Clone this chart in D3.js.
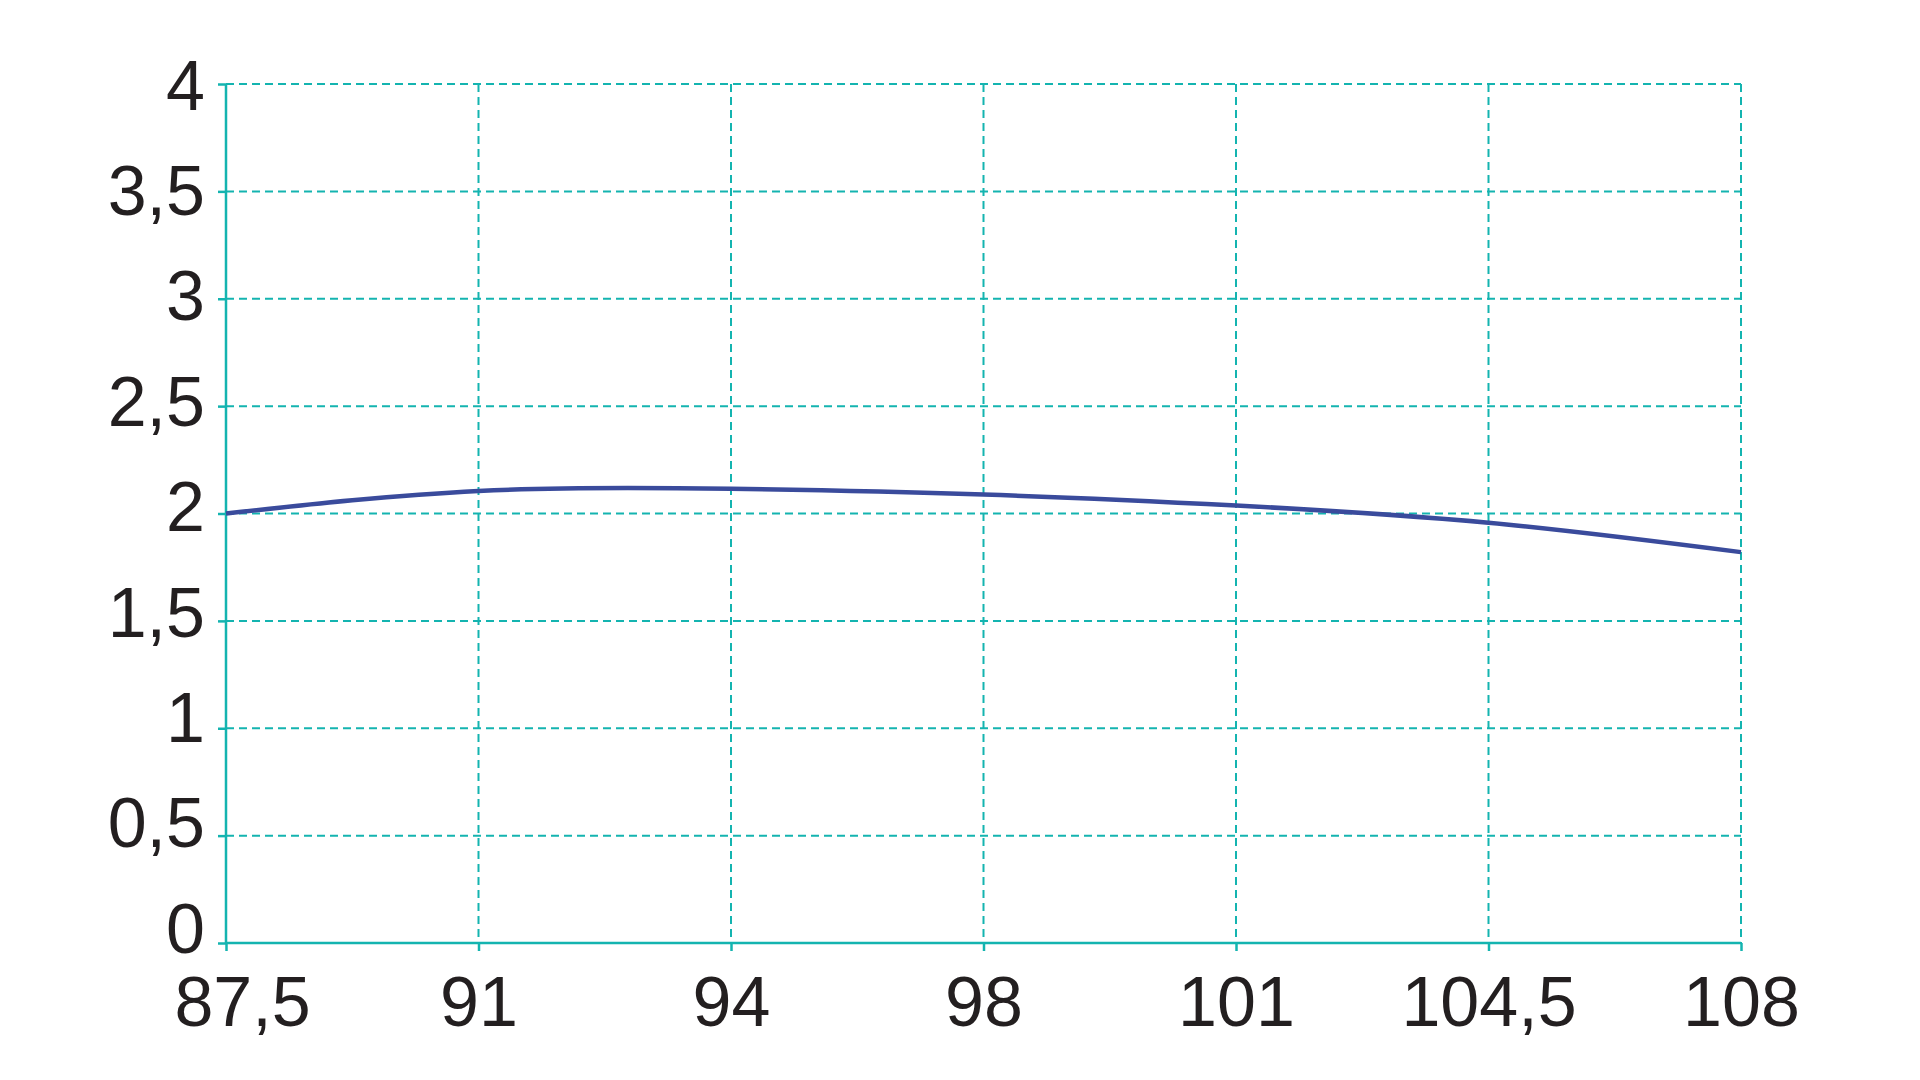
<!DOCTYPE html>
<html>
<head>
<meta charset="utf-8">
<script src="https://cdn.jsdelivr.net/npm/d3@7"></script>
<style>
  body { margin: 0; background: #fff; }
  .tick text { font-family: "Liberation Sans", Arial, sans-serif; fill: #231f20; }
</style>
</head>
<body>
<div id="chart"></div>
<script>
// x categories (equally spaced) and the curve values read at each one
const xLabels = ['87,5', '91', '94', '98', '101', '104,5', '108'];
const yValues = [2.0, 2.105, 2.115, 2.088, 2.037, 1.957, 1.82];
const yTicks = [0, 0.5, 1, 1.5, 2, 2.5, 3, 3.5, 4];

const totalWidth = 1920;
const totalHeight = 1080;
const margin = {top: 84, right: 179, bottom: 137, left: 226};
const width = totalWidth - margin.left - margin.right;
const height = totalHeight - margin.top - margin.bottom;
const teal = '#14b4b0';

let x = d3.scalePoint().domain(xLabels).range([0, width]);
let y = d3.scaleLinear().domain([0, 4]).range([height, 0]);
// the y labels in the original sit on a slightly shorter span than the grid
let yLabel = d3.scaleLinear().domain([0, 4]).range([height - 16, 0]);

let svg = d3.select('#chart').append('svg')
    .attr('width', totalWidth)
    .attr('height', totalHeight);

let g = svg.append('g')
    .attr('transform', 'translate(' + margin.left + ',' + margin.top + ')');

// dashed grid
g.append('g').selectAll('line.hgrid')
  .data(yTicks.slice(1))
  .enter().append('line')
    .attr('class', 'hgrid')
    .attr('x1', 0).attr('x2', width)
    .attr('y1', function(d) { return y(d); })
    .attr('y2', function(d) { return y(d); })
    .attr('stroke', teal).attr('stroke-width', 2)
    .attr('stroke-dasharray', '8,5');

g.append('g').selectAll('line.vgrid')
  .data(xLabels.slice(1))
  .enter().append('line')
    .attr('class', 'vgrid')
    .attr('x1', function(d) { return x(d); })
    .attr('x2', function(d) { return x(d); })
    .attr('y1', 0).attr('y2', height)
    .attr('stroke', teal).attr('stroke-width', 2)
    .attr('stroke-dasharray', '8,5');

// axes
let axisLeft = g.append('g')
    .call(d3.axisLeft(y).tickValues(yTicks).tickSize(8).tickPadding(13)
      .tickFormat(function(d) { return String(d).replace('.', ','); }));

let axisBottom = g.append('g')
    .attr('transform', 'translate(0,' + height + ')')
    .call(d3.axisBottom(x).tickSize(8).tickPadding(8));

[axisLeft, axisBottom].forEach(function(a) {
  a.select('.domain').attr('stroke', teal).attr('stroke-width', 2.5);
  a.selectAll('.tick line').attr('stroke', teal).attr('stroke-width', 2.5);
  a.selectAll('.tick text').attr('font-size', 70);
});
axisLeft.select('.domain').attr('d', 'M0,' + height + 'V0');
axisBottom.select('.domain').attr('d', 'M0,0H' + width);
axisLeft.selectAll('.tick text')
    .attr('dy', '0.36em')
    .attr('y', function(d) { return yLabel(d) - y(d); });
axisBottom.selectAll('.tick text')
    .attr('dy', '0.95em')
    .attr('x', function(d, i) { return i === 0 ? 16 : 0; });

// curve
let line = d3.line()
  .x(function(d, i) { return x(xLabels[i]); })
  .y(function(d) { return y(d); })
  .curve(d3.curveNatural);

g.append('path')
    .datum(yValues)
    .attr('d', line)
    .attr('fill', 'none')
    .attr('stroke', '#3a4b9c')
    .attr('stroke-width', 4.5);
</script>
</body>
</html>
